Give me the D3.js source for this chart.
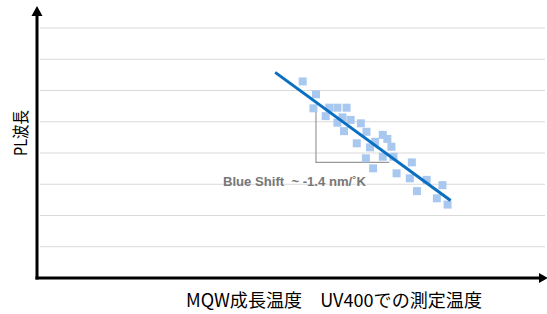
<!DOCTYPE html>
<html>
<head>
  <meta charset="utf8">
  <style type="text/css">
    body { margin: 0; background: #fff; }
    svg { display: block; }
  </style>
</head>
<body>
<script src="https://d3js.org/d3.v7.min.js"></script>
<script type="text/javascript">

// growth temperature (arbitrary units) vs PL wavelength (arbitrary units)
var tempX = [5.21, 5.47, 5.42, 5.73, 5.89, 6.07, 5.66, 5.89, 5.99, 6.15, 6.02, 6.35, 6.46, 6.27, 6.53, 6.63,
             6.78, 6.87, 6.95, 6.78, 6.45, 6.59, 6.99, 7.05, 7.35, 7.31, 7.64, 7.45, 7.95, 7.84, 8.05]
var wavelength = [6.29, 5.88, 5.43, 5.45, 5.45, 5.45, 5.18, 4.97, 5.14, 5.06, 4.70, 4.95, 4.68, 4.31, 4.18, 4.36,
                  4.58, 4.45, 4.20, 3.88, 3.83, 3.51, 3.88, 3.35, 3.70, 3.19, 3.14, 2.78, 2.97, 2.55, 2.35]
var fitX = [4.67, 8.11]
var fitY = [6.58, 2.48]
var gridY = [1, 2, 3, 4, 5, 6, 7, 8]
// slope bracket: corner and ends
var bracketX = [5.47, 5.47, 6.91]
var bracketY = [5.45, 3.70, 3.70]

var width = 547, height = 314

var x = d3.scaleLinear().domain([0, 10]).range([37, 547])
var y = d3.scaleLinear().domain([0, 8]).range([278, 28])

var svg = d3.select('body').append('svg')
    .attr('width', width)
    .attr('height', height)

// gridlines
svg.append('g')
  .selectAll('line')
  .data(gridY)
  .enter()
  .append('line')
  .attr('x1', 40)
  .attr('x2', 545)
  .attr('y1', function(d) { return y(d) })
  .attr('y2', function(d) { return y(d) })
  .attr('stroke', '#d9d9d9')
  .attr('stroke-width', 1)

// bracket
var line = d3.line()
  .x(function(d) { return x(d[0]) })
  .y(function(d) { return y(d[1]) })

svg.append('path')
  .attr('d', line(d3.zip(bracketX, bracketY)))
  .attr('fill', 'none')
  .attr('stroke', '#999')
  .attr('stroke-width', 1.2)

// points
svg.append('g')
  .selectAll('rect')
  .data(d3.zip(tempX, wavelength))
  .enter()
  .append('rect')
  .attr('x', function(d) { return x(d[0]) - 4 })
  .attr('y', function(d) { return y(d[1]) - 4 })
  .attr('width', 8)
  .attr('height', 8)
  .attr('fill', '#a9c8ef')

// fit line
svg.append('path')
  .attr('d', line(d3.zip(fitX, fitY)))
  .attr('stroke', '#0a6fc0')
  .attr('stroke-width', 3)

svg.append('text')
  .attr('x', 223)
  .attr('y', 186)
  .attr('font-family', 'Liberation Sans, Arial, sans-serif')
  .attr('font-weight', 'bold')
  .attr('font-size', 12.5)
  .attr('fill', '#777')
  .attr('textLength', 143)
  .attr('lengthAdjust', 'spacingAndGlyphs')
  .attr('xml:space', 'preserve')
  .text('Blue Shift  ~ -1.4 nm/˚K')

// axes with arrows
svg.append('line')
  .attr('x1', x(0)).attr('y1', y(0) + 1.5)
  .attr('x2', x(0)).attr('y2', 14)
  .attr('stroke', '#000').attr('stroke-width', 3)
svg.append('path')
  .attr('d', 'M' + (x(0) - 5.5) + ',16L' + x(0) + ',6L' + (x(0) + 5.5) + ',16Z')
  .attr('fill', '#000')

svg.append('line')
  .attr('x1', x(0) - 1.5).attr('y1', y(0))
  .attr('x2', 540).attr('y2', y(0))
  .attr('stroke', '#000').attr('stroke-width', 3)
svg.append('path')
  .attr('d', 'M539,' + (y(0) - 5) + 'L548,' + y(0) + 'L539,' + (y(0) + 5) + 'Z')
  .attr('fill', '#000')

// axis titles
svg.append('text')
  .attr('transform', 'translate(27,133) rotate(-90)')
  .attr('text-anchor', 'middle')
  .attr('font-family', 'Noto Sans CJK JP, sans-serif')
  .attr('font-size', 17)
  .attr('fill', '#000')
  .attr('textLength', 46)
  .attr('lengthAdjust', 'spacingAndGlyphs')
  .text('PL波長')

svg.append('text')
  .attr('x', 186)
  .attr('y', 307)
  .attr('font-family', 'Noto Sans CJK JP, sans-serif')
  .attr('font-size', 18)
  .attr('fill', '#000')
  .attr('textLength', 296)
  .attr('lengthAdjust', 'spacingAndGlyphs')
  .text('MQW成長温度　UV400での測定温度')

</script>
</body>
</html>
